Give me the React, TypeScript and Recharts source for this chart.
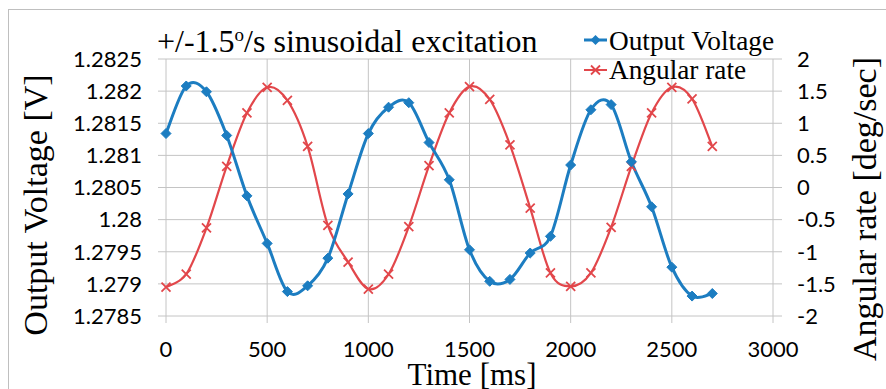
import React from 'react';
import { LineChart, Line, XAxis, YAxis, CartesianGrid, Customized } from 'recharts';

// sample times in ms
const TIME = [0, 100, 200, 300, 400, 500, 600, 700, 800, 900, 1000, 1100, 1200, 1300,
  1400, 1500, 1600, 1700, 1800, 1900, 2000, 2100, 2200, 2300, 2400, 2500, 2600, 2700];

// Output Voltage [V] (left axis)
const VOLTAGE = [1.28134, 1.28208, 1.28199, 1.28131, 1.28037, 1.27963, 1.27888, 1.27897,
  1.2794, 1.2804, 1.28134, 1.28175, 1.28182, 1.2812, 1.28062, 1.27953, 1.27904, 1.27907,
  1.27948, 1.27974, 1.28085, 1.28171, 1.28179, 1.2809, 1.2802, 1.27926, 1.27881, 1.27885];

// Angular rate [deg/sec] (right axis)
const RATE = [-1.55, -1.35, -0.63, 0.33, 1.16, 1.56, 1.355, 0.64, -0.59, -1.16, -1.58, -1.35,
  -0.61, 0.34, 1.16, 1.57, 1.37, 0.665, -0.32, -1.33, -1.54, -1.33, -0.62, 0.33, 1.16, 1.56,
  1.38, 0.64];

const X_TICKS = [0, 500, 1000, 1500, 2000, 2500, 3000];
const V_TICKS = [1.2785, 1.279, 1.2795, 1.28, 1.2805, 1.281, 1.2815, 1.282, 1.2825];
const R_TICKS = [-2, -1.5, -1, -0.5, 0, 0.5, 1, 1.5, 2];

const BLUE = '#1c7dc1';
const RED = '#e2474b';
const GRID = '#c4c4c4';
const SERIF = '"Liberation Serif", "Times New Roman", serif';
const TICK_FONT = { fontFamily: 'Lato, sans-serif', fontSize: 22, fill: '#000' };

const data = TIME.map((t, i) => ({ t, voltage: VOLTAGE[i], rate: RATE[i] }));

// Excel-like smoothed line (Catmull-Rom through the points)
const smooth = (context: any) => {
  let pts: number[][] = [];
  return {
    areaStart() {},
    areaEnd() {},
    lineStart() { pts = []; },
    point(x: number, y: number) { pts.push([+x, +y]); },
    lineEnd() {
      if (!pts.length) return;
      context.moveTo(pts[0][0], pts[0][1]);
      for (let i = 0; i < pts.length - 1; i++) {
        const p0 = pts[i - 1] || pts[i];
        const p1 = pts[i];
        const p2 = pts[i + 1];
        const p3 = pts[i + 2] || pts[i + 1];
        context.bezierCurveTo(
          p1[0] + (p2[0] - p0[0]) / 6, p1[1] + (p2[1] - p0[1]) / 6,
          p2[0] - (p3[0] - p1[0]) / 6, p2[1] - (p3[1] - p1[1]) / 6,
          p2[0], p2[1]
        );
      }
    },
  };
};

const diamondPath = (cx: number, cy: number, r: number) =>
  `M${cx},${cy - r}L${cx + r},${cy}L${cx},${cy + r}L${cx - r},${cy}Z`;

const crossPath = (cx: number, cy: number, r: number) =>
  `M${cx - r},${cy - r}L${cx + r},${cy + r}M${cx - r},${cy + r}L${cx + r},${cy - r}`;

const DiamondDot = (props: any) => {
  const { cx, cy, index } = props;
  if (cx == null || cy == null) return <g key={index} />;
  return <path key={index} d={diamondPath(cx, cy, 5)} fill={BLUE} stroke={BLUE} strokeWidth={1} />;
};

const CrossDot = (props: any) => {
  const { cx, cy, index } = props;
  if (cx == null || cy == null) return <g key={index} />;
  return <path key={index} d={crossPath(cx, cy, 4.5)} fill="none" stroke={RED} strokeWidth={1.8} />;
};

const Overlay = () => (
  <g>
    <rect x={8.5} y={9.5} width={900} height={400} fill="none" stroke="#bfbfbf" />
    <text x={157} y={52} fontFamily={SERIF} fontSize={32} fill="#000">
      +/-1.5<tspan dy={-11} fontSize={19}>o</tspan><tspan dy={11}>/s sinusoidal excitation</tspan>
    </text>
    <line x1={584} y1={40} x2={607} y2={40} stroke={BLUE} strokeWidth={3} />
    <path d={diamondPath(595.5, 40, 5)} fill={BLUE} />
    <text x={609} y={50} fontFamily={SERIF} fontSize={27.3} fill="#000">Output Voltage</text>
    <line x1={584} y1={70} x2={607} y2={70} stroke={RED} strokeWidth={2} />
    <path d={crossPath(595.5, 70, 4.5)} stroke={RED} strokeWidth={1.8} fill="none" />
    <text x={609} y={79} fontFamily={SERIF} fontSize={27.3} fill="#000">Angular rate</text>
    <text transform="translate(47,205) rotate(-90)" textAnchor="middle" fontFamily={SERIF} fontSize={34} fill="#000">
      Output Voltage [V]
    </text>
    <text transform="translate(876,209) rotate(-90)" textAnchor="middle" fontFamily={SERIF} fontSize={34} fill="#000">
      Angular rate [deg/sec]
    </text>
    <text x={472} y={385} textAnchor="middle" fontFamily={SERIF} fontSize={31} fill="#000">
      Time [ms]
    </text>
  </g>
);

export default function App() {
  return (
    <div style={{ position: 'absolute', left: 0, top: 0, width: 886, height: 389, background: '#fff' }}>
      <LineChart width={886} height={389} data={data} margin={{ top: 59, right: 0, bottom: 0, left: 0 }}>
        <Customized component={Overlay} />
        <CartesianGrid yAxisId="left" stroke={GRID} strokeWidth={1} />
        <XAxis
          dataKey="t"
          type="number"
          domain={[0, 3000]}
          ticks={X_TICKS}
          height={73}
          axisLine={false}
          tickLine={{ stroke: GRID }}
          tickSize={7}
          tickMargin={18}
          tick={TICK_FONT}
          interval={0}
        />
        <YAxis
          yAxisId="left"
          orientation="left"
          domain={[1.2785, 1.2825]}
          ticks={V_TICKS}
          width={166}
          axisLine={false}
          tickLine={{ stroke: GRID }}
          tickSize={8}
          tickMargin={16}
          tick={TICK_FONT}
          interval={0}
        />
        <YAxis
          yAxisId="right"
          orientation="right"
          domain={[-2, 2]}
          ticks={R_TICKS}
          width={113}
          axisLine={false}
          tickLine={{ stroke: GRID }}
          tickSize={9}
          tickMargin={15}
          tick={TICK_FONT}
          interval={0}
        />
        <Line
          yAxisId="right"
          dataKey="rate"
          type={smooth as any}
          stroke={RED}
          strokeWidth={2.2}
          dot={CrossDot}
          activeDot={false}
          isAnimationActive={false}
        />
        <Line
          yAxisId="left"
          dataKey="voltage"
          type={smooth as any}
          stroke={BLUE}
          strokeWidth={3}
          dot={DiamondDot}
          activeDot={false}
          isAnimationActive={false}
        />
      </LineChart>
    </div>
  );
}
